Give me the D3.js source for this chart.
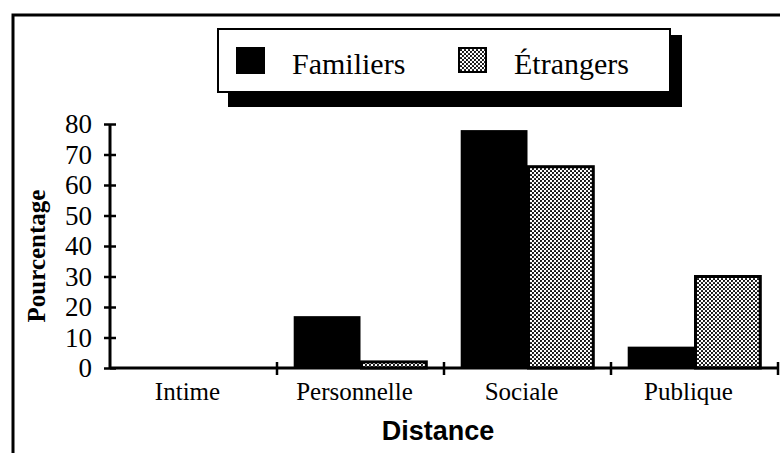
<!DOCTYPE html>
<html>
<head>
<meta charset="utf-8">
<script src="https://cdn.jsdelivr.net/npm/d3@7"></script>
<style>
  body { margin: 0; background: #fff; }
  svg { display: block; }
</style>
</head>
<body>
<div class="chart"></div>
<script>
// Distance chart - Familiers vs Etrangers
var categories = ["Intime", "Personnelle", "Sociale", "Publique"];
var series = ["Familiers", "Étrangers"];
var familiers = [0, 17, 78, 7];
var etrangers = [0, 2, 66, 30];
var yTicks = [0, 10, 20, 30, 40, 50, 60, 70, 80];

var svgWidth = 780;
var svgHeight = 453;
var serif = "'Liberation Serif', 'Times New Roman', serif";

var data = categories.map(function(c, i) {
    return { cat: c, values: [familiers[i], etrangers[i]] };
});

var svg = d3.select(".chart")
    .append("svg")
    .attr("width", svgWidth)
    .attr("height", svgHeight);

// dotted fill for Etrangers
var defs = svg.append("defs");
var pat = defs.append("pattern")
    .attr("id", "dots")
    .attr("patternUnits", "userSpaceOnUse")
    .attr("width", 4)
    .attr("height", 4);
pat.append("rect").attr("width", 4).attr("height", 4).attr("fill", "#fff");
pat.append("circle").attr("cx", 1).attr("cy", 1).attr("r", 1.05).attr("fill", "#000");
pat.append("circle").attr("cx", 3).attr("cy", 3).attr("r", 1.05).attr("fill", "#000");

var fills = ["#000", "url(#dots)"];

// outer frame (top + left only)
svg.append("path")
    .attr("d", "M13,453 V15 H780")
    .attr("fill", "none")
    .attr("stroke", "#000")
    .attr("stroke-width", 3);

// scales
var x0 = d3.scaleBand()
    .domain(categories)
    .range([110, 778])
    .padding(0);

var x1 = d3.scaleBand()
    .domain(series)
    .range([0, x0.bandwidth()])
    .paddingInner(0)
    .paddingOuter(0.25);

var y = d3.scaleLinear()
    .domain([0, 80])
    .range([368, 124]);

// bars
var groups = svg.append("g")
    .selectAll("g")
    .data(data)
    .enter()
    .append("g")
    .attr("transform", function(d) { return "translate(" + x0(d.cat) + ",0)"; });

groups.selectAll("rect")
    .data(function(d) { return d.values.map(function(v, i) { return { key: series[i], value: v, i: i }; }); })
    .enter()
    .filter(function(d) { return d.value > 0; })
    .append("rect")
    .attr("x", function(d) { return x1(d.key) + (d.i === 1 ? 1 : 0); })
    .attr("y", function(d) { return y(d.value); })
    .attr("width", function(d) { return x1.bandwidth() - (d.i === 1 ? 2 : 0); })
    .attr("height", function(d) { return y(0) - y(d.value); })
    .attr("fill", function(d) { return fills[d.i]; })
    .attr("stroke", function(d) { return d.i === 1 ? "#000" : "none"; })
    .attr("stroke-width", 3);

// y axis
var leftAxis = d3.axisLeft(y).tickValues(yTicks).tickSize(6).tickPadding(12);
var yAxis = svg.append("g")
    .attr("transform", "translate(110,0)")
    .call(leftAxis);
yAxis.attr("font-family", null).attr("font-size", null);
yAxis.select(".domain").attr("stroke-width", 3).attr("d", "M0,124V368");
yAxis.selectAll(".tick line").attr("x1", 6).attr("x2", -6).attr("stroke-width", 2.5);
yAxis.selectAll(".tick text")
    .style("font-family", serif)
    .style("font-size", "27px")
    .attr("fill", "#000")
    .attr("dy", "0.33em");

// x axis with ticks at band edges
var xAxis = svg.append("g");
xAxis.append("line")
    .attr("x1", x0.range()[0]).attr("x2", x0.range()[1])
    .attr("y1", y(0)).attr("y2", y(0))
    .attr("stroke", "#000")
    .attr("stroke-width", 3);
xAxis.selectAll(".xtick")
    .data(categories)
    .enter()
    .append("line")
    .attr("class", "xtick")
    .attr("x1", function(d) { return x0(d) + x0.bandwidth(); })
    .attr("x2", function(d) { return x0(d) + x0.bandwidth(); })
    .attr("y1", y(0) - 6)
    .attr("y2", y(0) + 7)
    .attr("stroke", "#000")
    .attr("stroke-width", 2.5);

svg.append("g")
    .selectAll("text")
    .data(categories)
    .enter()
    .append("text")
    .attr("x", function(d) { return x0(d) + x0.bandwidth() / 2 - 6; })
    .attr("y", 400)
    .attr("text-anchor", "middle")
    .style("font-family", serif)
    .style("font-size", "25px")
    .text(function(d) { return d; });

// axis titles
svg.append("text")
    .attr("x", 438)
    .attr("y", 440)
    .attr("text-anchor", "middle")
    .style("font-family", "'Liberation Sans', Arial, sans-serif")
    .style("font-weight", "bold")
    .style("font-size", "27px")
    .text("Distance");

svg.append("text")
    .attr("transform", "translate(45,256) rotate(-90)")
    .attr("text-anchor", "middle")
    .style("font-family", serif)
    .style("font-weight", "bold")
    .style("font-size", "25px")
    .text("Pourcentage");

// legend with drop shadow
var legend = svg.append("g");
legend.append("rect")
    .attr("x", 228).attr("y", 35)
    .attr("width", 454).attr("height", 72)
    .attr("fill", "#000");
legend.append("rect")
    .attr("x", 218).attr("y", 29)
    .attr("width", 452).attr("height", 63)
    .attr("fill", "#fff")
    .attr("stroke", "#000")
    .attr("stroke-width", 2);

var legendX = [236, 458];
var items = legend.selectAll(".item")
    .data(series)
    .enter()
    .append("g")
    .attr("class", "item")
    .attr("transform", function(d, i) { return "translate(" + legendX[i] + ",47)"; });

items.append("rect")
    .attr("x", function(d, i) { return i === 1 ? 1 : 0; })
    .attr("y", function(d, i) { return i === 1 ? 1 : 0; })
    .attr("width", function(d, i) { return i === 1 ? 27 : 29; })
    .attr("height", function(d, i) { return i === 1 ? 24 : 27; })
    .attr("fill", function(d, i) { return fills[i]; })
    .attr("stroke", function(d, i) { return i === 1 ? "#000" : "none"; })
    .attr("stroke-width", 2);

items.append("text")
    .attr("x", 56)
    .attr("y", 27)
    .style("font-family", serif)
    .style("font-size", "30px")
    .text(function(d) { return d; });
</script>
</body>
</html>
